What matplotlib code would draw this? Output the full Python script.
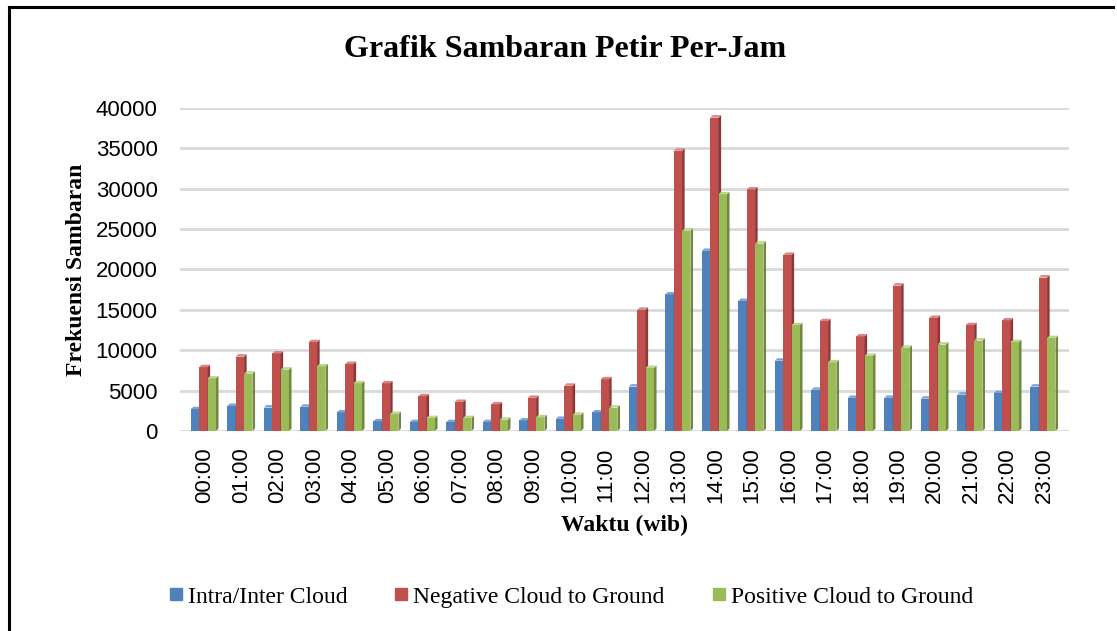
import matplotlib
matplotlib.use("Agg")
import matplotlib.pyplot as plt
import numpy as np
from matplotlib.patches import Polygon
from matplotlib.lines import Line2D

# --- data ---
HOURS = [f"{h:02d}:00" for h in range(24)]
INTRA = [2700, 3100, 2900, 3000, 2300, 1200, 1100, 1100, 1100, 1300, 1500, 2300,
         5500, 16900, 22300, 16100, 8700, 5100, 4100, 4100, 4000, 4500, 4700, 5500]
NEGATIVE = [7900, 9200, 9600, 11000, 8300, 5900, 4300, 3600, 3300, 4100, 5600, 6400,
            15000, 34700, 38800, 29900, 21800, 13600, 11700, 18000, 14000, 13100, 13700, 19000]
POSITIVE = [6500, 7100, 7600, 8000, 5900, 2100, 1600, 1600, 1400, 1700, 2000, 2900,
            7800, 24800, 29300, 23200, 13100, 8500, 9300, 10300, 10700, 11200, 11000, 11500]
SERIES = ["Intra/Inter Cloud", "Negative Cloud to Ground", "Positive Cloud to Ground"]

# Excel-ish palette: front, side, top
COLORS = [("#4f81bd", "#385d8a", "#7ea2d6"),
          ("#c0504d", "#8c3836", "#d98583"),
          ("#9bbb59", "#71893f", "#bcd68a")]

SERIF = ["Liberation Serif", "DejaVu Serif"]
SANS = ["Liberation Sans", "DejaVu Sans"]

W = 0.23      # bar width
DX = 0.07     # depth in x
DY = 300      # depth in y


def main() -> None:
    fig = plt.figure(figsize=(11.17, 6.31), dpi=100)
    ax = fig.add_axes([0.161, 0.317, 0.796, 0.512])

    x = np.arange(len(HOURS))
    data = [INTRA, NEGATIVE, POSITIVE]
    for i, (vals, name, (c_front, c_side, c_top)) in enumerate(zip(data, SERIES, COLORS)):
        xs = x + (i - 1) * W - W / 2 - DX / 2
        ax.bar(xs, vals, width=W, align="edge", color=c_front, label=name, zorder=3 + i)
        for xl, v in zip(xs, vals):
            side = [(xl + W, 0), (xl + W + DX, DY), (xl + W + DX, v + DY), (xl + W, v)]
            top = [(xl, v), (xl + DX, v + DY), (xl + W + DX, v + DY), (xl + W, v)]
            ax.add_patch(Polygon(side, closed=True, color=c_side, lw=0, zorder=3 + i))
            ax.add_patch(Polygon(top, closed=True, color=c_top, lw=0, zorder=3 + i))

    ax.set_xlim(-0.68, 23.68)
    ax.set_ylim(0, 40000)
    ax.set_yticks(np.arange(0, 40001, 5000))
    ax.set_xticks(x)
    ax.set_xticklabels(HOURS, rotation=90, family=SANS, fontsize=16)
    for lab in ax.get_yticklabels():
        lab.set_family(SANS)
        lab.set_fontsize(16)
    ax.tick_params(length=0)
    ax.tick_params(axis="y", pad=16)
    ax.tick_params(axis="x", pad=12)
    for s in ax.spines.values():
        s.set_visible(False)
    ax.yaxis.grid(True, color="#d9d9d9", lw=2)
    ax.set_axisbelow(True)

    ax.set_ylabel("Frekuensi Sambaran", family=SERIF, fontweight="bold", fontsize=17, labelpad=6)
    ax.set_xlabel("Waktu (wib)", family=SERIF, fontweight="bold", fontsize=17, labelpad=8)
    fig.text(0.506, 0.922, "Grafik Sambaran Petir Per-Jam", ha="center", va="center",
             family=SERIF, fontweight="bold", fontsize=23)

    handles = [Line2D([], [], marker="s", ls="", color=c[0], markersize=9) for c in COLORS]
    fig.legend(handles, SERIES, loc="center", bbox_to_anchor=(0.510, 0.054), ncol=3,
               frameon=False, prop={"family": SERIF, "size": 17}, handletextpad=0.1,
               columnspacing=1.9, handlelength=0.8)

    # outer frame (left and top edges)
    fig.add_artist(Line2D([0.008, 0.008], [0.0, 0.989], color="black", lw=2.2))
    fig.add_artist(Line2D([0.008, 0.996], [0.989, 0.989], color="black", lw=2.2))

    fig.savefig("out.png", dpi=100)


if __name__ == "__main__":
    main()
